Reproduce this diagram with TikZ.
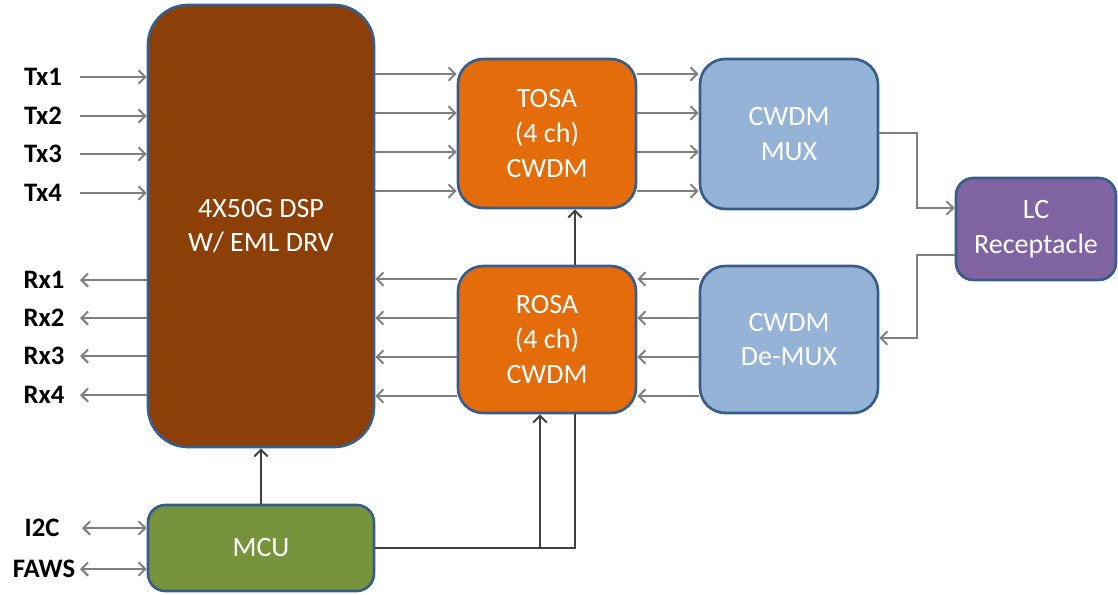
\documentclass[tikz,border=0pt]{standalone}
\usepackage{fontspec}
\setmainfont{Carlito}
\usepackage{tikz}
\usetikzlibrary{arrows.meta}
\definecolor{boxline}{RGB}{56,93,138}
\definecolor{dspbrown}{RGB}{140,64,8}
\definecolor{osaorange}{RGB}{228,108,10}
\definecolor{muxblue}{RGB}{149,179,215}
\definecolor{lcpurple}{RGB}{128,100,162}
\definecolor{mcugreen}{RGB}{119,147,60}
\definecolor{wiregray}{RGB}{127,127,127}
\definecolor{ctrlgray}{RGB}{64,64,64}

\begin{document}
\begin{tikzpicture}[x=0.75pt,y=-0.75pt]
		\tikzset{block/.style={draw=boxline, line width=2pt, text=white, align=center, inner sep=0pt,
				font=\fontsize{21}{26}\selectfont}}
		\tikzset{port/.style={font=\bfseries\fontsize{20}{24}\selectfont}}
		\tikzset{edge/.style={draw=wiregray, line width=1.5pt, -{Straight Barb[length=5pt,width=10pt]}}}
		\tikzset{both/.style={edge, {Straight Barb[length=5pt,width=10pt]}-{Straight Barb[length=5pt,width=10pt]}}}
		\tikzset{ctrl/.style={draw=ctrlgray, line width=1.5pt}}
		\useasboundingbox (0,0) rectangle (1118,594);
		%blocks
		\node[block, fill=dspbrown, rounded corners=30pt, minimum width=169.5pt, minimum height=331.5pt] (dsp) at (261,226) {4X50G DSP\\W/ EML DRV};
		\node[block, fill=osaorange, rounded corners=19pt, minimum width=133.5pt, minimum height=111.75pt] (tosa) at (547,133.5) {TOSA\\(4 ch)\\CWDM};
		\node[block, fill=osaorange, rounded corners=19pt, minimum width=133.5pt, minimum height=110.25pt] (rosa) at (547,339.5) {ROSA\\(4 ch)\\CWDM};
		\node[block, fill=muxblue, rounded corners=19pt, minimum width=133.5pt, minimum height=112.5pt] (mux) at (789,134) {CWDM\\MUX};
		\node[block, fill=muxblue, rounded corners=19pt, minimum width=133.5pt, minimum height=110.25pt] (demux) at (789,339.5) {CWDM\\De-MUX};
		\node[block, fill=lcpurple, rounded corners=13pt, minimum width=120pt, minimum height=76.5pt] (lc) at (1036,229) {LC\\Receptacle};
		\node[block, fill=mcugreen, rounded corners=13pt, minimum width=169.5pt, minimum height=64.5pt] (mcu) at (261,548) {MCU};
		%ports
		\foreach \y [count=\i] in {77,116,154,193} {
			\node[port] (tx\i) at (43,\y) {Tx\i};
			\coordinate (txe\i) at (80,\y);
			\draw[edge] (txe\i) -- (txe\i -| dsp.west);
		}
		\foreach \y [count=\i] in {280,318,356,395} {
			\node[port] (rx\i) at (44,\y) {Rx\i};
			\coordinate (rxe\i) at (80,\y);
			\draw[edge] (rxe\i -| dsp.west) -- (rxe\i);
		}
		\node[port] (i2c) at (42,528) {I2C};
		\node[port] (faws) at (44,569) {FAWS};
		\coordinate (i2ce) at (82,528);
		\coordinate (fawse) at (80,569);
		\draw[both] (i2ce) -- (i2ce -| mcu.west);
		\draw[both] (fawse) -- (fawse -| mcu.west);
		%edges
		\foreach \y in {74,113,152,191} {
			\coordinate (ya) at (0,\y);
			\draw[edge] (dsp.east |- ya) -- (tosa.west |- ya);
			\draw[edge] (tosa.east |- ya) -- (mux.west |- ya);
		}
		\foreach \y in {279,318,357,396} {
			\coordinate (yb) at (0,\y);
			\draw[edge] (demux.west |- yb) -- (rosa.east |- yb);
			\draw[edge] (rosa.west |- yb) -- (dsp.east |- yb);
		}
		\coordinate (k1) at (917,133);
		\coordinate (k2) at (917,208);
		\coordinate (k3) at (917,255);
		\coordinate (k4) at (917,338);
		\draw[edge] (mux.east |- k1) -- (k1) |- (lc.west |- k2);
		\draw[edge] (lc.west |- k3) -| (k4) -- (demux.east |- k4);
		%control
		\coordinate (ca) at (540,0);
		\coordinate (cb) at (575,0);
		\draw[ctrl, -{Straight Barb[length=5pt,width=10pt]}] (mcu.north) -- (dsp.south);
		\draw[ctrl, -{Straight Barb[length=5pt,width=10pt]}] (mcu.east) -| (rosa.south -| ca);
		\draw[ctrl] (mcu.east) -| (rosa.south -| cb);
		\draw[ctrl, -{Straight Barb[length=5pt,width=10pt]}] (rosa.north -| cb) -- (tosa.south -| cb);
\end{tikzpicture}
\end{document}
